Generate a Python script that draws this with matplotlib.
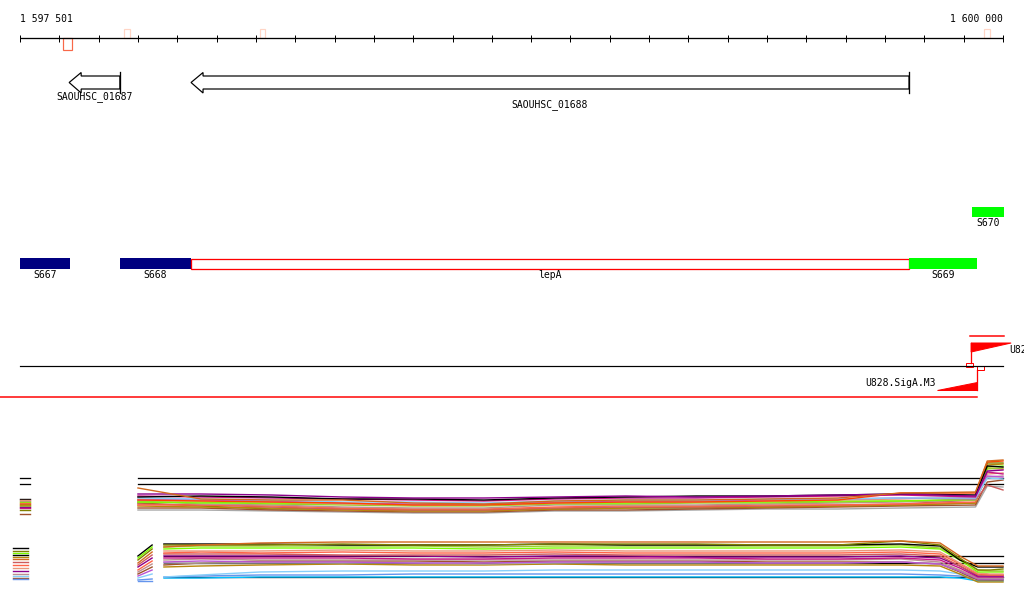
import matplotlib
matplotlib.use("Agg")
import matplotlib.pyplot as plt
from matplotlib.patches import Polygon, Rectangle

# ---------------- data ----------------
region_start = 1597500
region_end = 1600000
ruler_labels = ["1 597 501", "1 600 000"]
tick_step = 100

# small marks on the ruler (start, end, kind)
ruler_marks = [(1597609, 1597632, "down"), (1597765, 1597780, "up"),
               (1598110, 1598123, "up"), (1599952, 1599967, "up")]

# genes (reverse strand): name, start, end
gene_names = ["SAOUHSC_01687", "SAOUHSC_01688"]
gene_starts = [1597625, 1597935]
gene_ends = [1597754, 1599761]

# segments track
seg_names = ["S667", "S668", "lepA", "S669", "S670"]
seg_starts = [1597500, 1597754, 1597935, 1599761, 1599921]
seg_ends = [1597627, 1597935, 1599761, 1599934, 1600003]
seg_kinds = ["navy", "navy", "cds", "green", "green"]
seg_rows = [0, 0, 0, 0, 1]

# promoters
prom_names = ["U828.SigA.M3", "U828.SigA.M3"]
prom_pos = [1599919, 1599934]
prom_strand = ["+", "-"]

# expression track 1
t1_x = [1597800, 1597960, 1598140, 1598320, 1598500, 1598680, 1598860, 1599040,
        1599220, 1599400, 1599580, 1599740, 1599930, 1599960, 1600000]
t1_series = {
    '#808000': [503, 506, 509, 509, 510, 510, 509, 508, 508, 507, 506, 505, 503, 463, 463],
    '#a9a9a9': [510, 510, 511, 512, 513, 513, 511, 511, 510, 509, 509, 508, 507, 486, 487],
    '#a0522d': [508, 508, 510, 511, 512, 512, 510, 510, 509, 508, 507, 506, 505, 482, 480],
    '#b8860b': [506, 507, 508, 510, 511, 511, 509, 508, 507, 507, 506, 505, 503, 465, 464],
    '#cd5c5c': [504, 505, 507, 509, 510, 510, 508, 507, 507, 506, 505, 504, 500, 485, 490],
    '#ff6347': [505, 505, 506, 508, 509, 509, 507, 506, 506, 505, 505, 504, 502, 468, 469],
    '#bc8f8f': [501, 504, 505, 507, 508, 508, 505, 505, 505, 504, 503, 502, 500, 477, 476],
    '#9acd32': [502, 502, 504, 505, 506, 506, 504, 504, 503, 503, 502, 501, 500, 469, 468],
    '#7cfc00': [502, 503, 503, 504, 505, 505, 503, 503, 502, 502, 501, 501, 499, 467, 466],
    '#e9967a': [499, 500, 502, 504, 505, 505, 503, 502, 502, 501, 500, 499, 497, 474, 473],
    '#ba55d3': [500, 500, 501, 503, 504, 504, 502, 501, 501, 500, 499, 498, 499, 476, 477],
    '#87cefa': [498, 499, 500, 502, 502, 503, 501, 500, 500, 499, 499, 498, 498, 478, 479],
    '#ff4500': [500, 501, 502, 503, 505, 505, 503, 502, 502, 501, 500, 493, 493, 462, 461],
    '#c71585': [496, 497, 498, 499, 500, 501, 499, 498, 498, 497, 496, 495, 497, 472, 474],
    '#000000': [497, 496, 497, 499, 499, 500, 498, 497, 496, 496, 495, 494, 495, 466, 467],
    '#8b008b': [494, 494, 495, 497, 498, 498, 497, 496, 497, 496, 495, 494, 496, 471, 470],
    '#d2691e': [488, 499, 500, 500, 503, 504, 501, 500, 500, 499, 498, 493, 492, 461, 460],
}
t1_thresholds = [478, 484]

# expression track 2
t2_x = [1597866, 1597960, 1598110, 1598320, 1598500, 1598680, 1598860, 1599040,
        1599220, 1599400, 1599580, 1599740, 1599840, 1599890, 1599936, 1599967, 1600000]
t2_series = {
    '#00bfff': [578, 578, 577, 577, 577, 577, 577, 577, 577, 577, 577, 577, 577, 578, 581, 581, 581],
    '#6495ed': [577, 576, 575, 575, 574, 574, 574, 574, 574, 574, 574, 574, 575, 576, 579, 580, 580],
    '#87cefa': [577, 575, 572, 571, 571, 571, 570, 570, 570, 570, 570, 570, 571, 574, 578, 579, 579],
    '#b8860b': [567, 566, 565, 564, 565, 565, 564, 565, 565, 565, 565, 565, 566, 574, 582, 582, 582],
    '#a0522d': [565, 563, 561, 561, 561, 562, 561, 561, 561, 562, 562, 562, 564, 572, 580, 580, 580],
    '#a9a9a9': [563, 563, 563, 563, 563, 564, 563, 563, 563, 563, 563, 562, 564, 571, 578, 577, 577],
    '#ba55d3': [562, 561, 562, 562, 563, 563, 562, 562, 562, 563, 563, 562, 564, 571, 579, 579, 579],
    '#bc8f8f': [560, 559, 560, 560, 560, 560, 560, 560, 560, 560, 560, 559, 562, 570, 578, 578, 578],
    '#c71585': [558, 558, 558, 558, 559, 559, 558, 558, 558, 559, 559, 558, 560, 568, 577, 577, 577],
    '#8b008b': [556, 556, 556, 556, 556, 557, 556, 556, 557, 557, 557, 556, 558, 566, 576, 576, 576],
    '#cd5c5c': [554, 554, 554, 555, 555, 555, 554, 555, 555, 555, 555, 554, 556, 566, 575, 575, 575],
    '#ff6347': [553, 552, 553, 552, 553, 553, 552, 553, 553, 553, 553, 552, 554, 564, 574, 575, 575],
    '#e9967a': [551, 551, 551, 550, 551, 551, 550, 551, 551, 551, 551, 550, 552, 563, 573, 574, 574],
    '#7cfc00': [549, 548, 548, 548, 548, 549, 548, 548, 548, 548, 548, 547, 549, 560, 572, 572, 572],
    '#9acd32': [547, 546, 546, 546, 546, 547, 546, 546, 546, 546, 546, 545, 548, 559, 570, 571, 571],
    '#000000': [544, 544, 544, 545, 545, 545, 544, 545, 545, 545, 545, 544, 546, 560, 567, 567, 567],
    '#808000': [545, 545, 545, 544, 545, 545, 544, 544, 544, 545, 545, 541, 545, 558, 570, 570, 569],
    '#d2691e': [547, 545, 543, 542, 542, 542, 542, 542, 542, 542, 542, 541, 543, 556, 566, 566, 566],
}
t2_thresholds = [556, 563, 577]

# short left fragment of track 2
t2b_x = [1597800, 1597836]
t2b_start = [556, 558, 560, 563, 565, 567, 570, 572, 574, 576, 578, 580]
t2b_end = [545, 547, 549, 552, 555, 558, 561, 564, 567, 570, 574, 579]
t2b_colors = ['#000000', '#7cfc00', '#808000', '#d2691e', '#cd5c5c', '#8b008b',
              '#ff6347', '#bc8f8f', '#a0522d', '#ba55d3', '#87cefa', '#6495ed']

# left mini blocks
mini1_x = [1597500, 1597525]
mini1_y = [499, 500, 501, 502, 503, 504, 505, 506, 507, 508, 510, 514]
mini1_c = ['#000000', '#e9967a', '#bc8f8f', '#7cfc00', '#ff6347', '#d2691e',
           '#b8860b', '#9acd32', '#8b008b', '#c71585', '#808000', '#a0522d']
mini2_x = [1597482, 1597520]
mini2_y = [548, 551, 553, 555, 557, 559, 562, 565, 568, 571, 574, 576, 578, 579]
mini2_c = ['#000000', '#808000', '#7cfc00', '#000000', '#b8860b', '#d2691e', '#cd5c5c',
           '#ff6347', '#e9967a', '#8b008b', '#bc8f8f', '#87cefa', '#a0522d', '#6495ed']

# ---------------- drawing ----------------
W, H = 1024, 611
x0px, x1px = 20, 1003
bp_per_px = (region_end - region_start) / (x1px - x0px)
XL = region_start - x0px * bp_per_px
XR = region_start + (W - x0px) * bp_per_px

fig = plt.figure(figsize=(W / 100, H / 100), dpi=100)
ax = fig.add_axes([0, 0, 1, 1])
ax.set_xlim(XL, XR)
ax.set_ylim(H, 0)
ax.axis('off')

FONT = dict(family='DejaVu Sans Mono', fontsize=7, color='black')
PX = 0.72  # one pixel in points

# ruler
ax.plot([region_start, region_end], [38, 38], color='black', lw=PX * 1.3, solid_capstyle='butt')
for t in range(region_start, region_end + 1, tick_step):
    ax.plot([t, t], [35, 41.5], color='black', lw=PX, solid_capstyle='butt')
ax.text(region_start, 19.5, ruler_labels[0], ha='left', va='center', **FONT)
ax.text(region_end, 19.5, ruler_labels[1], ha='right', va='center', **FONT)
for s, e, kind in ruler_marks:
    if kind == "down":
        ax.add_patch(Rectangle((s, 38), e - s, 12, fill=False, ec='#f86848', lw=PX * 1.2))
    else:
        ax.add_patch(Rectangle((s, 29), e - s, 9, fill=False, ec='#ffd5c5', lw=PX * 1.2))

# genes (reverse strand arrows)
for name, s, e, lab_y in zip(gene_names, gene_starts, gene_ends, [97, 105]):
    hl = 12 * bp_per_px
    pts = [(s, 82.5), (s + hl, 72.5), (s + hl, 76), (e, 76), (e, 89), (s + hl, 89), (s + hl, 93)]
    ax.add_patch(Polygon(pts, closed=True, fc='white', ec='black', lw=PX * 1.2, joinstyle='miter'))
    ax.plot([e, e], [72, 93], color='black', lw=PX * 1.3)
    ax.text((s + e) / 2, lab_y, name, ha='center', va='center', **FONT)

# segments
for name, s, e, kind, row in zip(seg_names, seg_starts, seg_ends, seg_kinds, seg_rows):
    top = 258 if row == 0 else 207
    h = 11 if row == 0 else 10
    if kind == 'navy':
        ax.add_patch(Rectangle((s, top), e - s, h, fc='#000080', ec='none'))
    elif kind == 'green':
        ax.add_patch(Rectangle((s, top), e - s, h, fc='#00ff00', ec='none'))
    else:
        ax.add_patch(Rectangle((s, top + 0.5), e - s, h - 1, fill=False, ec='#ff0000', lw=PX * 1.3))
    ax.text((s + e) / 2, top + h + 6.5, name, ha='center', va='center', **FONT)

# promoter track
ax.plot([region_start, region_end], [366, 366], color='black', lw=PX * 1.2)
ax.plot([XL, prom_pos[1]], [397, 397], color='#ff0000', lw=PX * 1.5)
ax.plot([prom_pos[0] - 3, region_end + 3], [336, 336], color='#ff0000', lw=PX * 1.5)
for name, p, st in zip(prom_names, prom_pos, prom_strand):
    L = 40 * bp_per_px
    if st == '+':
        ax.add_patch(Polygon([(p, 343), (p + L, 343), (p, 352)], closed=True, fc='#ff0000', ec='#ff0000', lw=PX))
        ax.plot([p, p], [343, 362.5], color='#ff0000', lw=PX * 1.3)
        ax.add_patch(Rectangle((p - 5 * bp_per_px, 362.5), 7 * bp_per_px, 4, fill=False, ec='#ff0000', lw=PX))
        ax.text(p + 38 * bp_per_px, 350, name, ha='left', va='center', clip_on=False, **FONT)
    else:
        ax.add_patch(Polygon([(p - L, 390), (p, 390), (p, 382)], closed=True, fc='#ff0000', ec='#ff0000', lw=PX))
        ax.plot([p, p], [370, 390], color='#ff0000', lw=PX * 1.3)
        ax.add_patch(Rectangle((p, 366.3), 7 * bp_per_px, 4, fill=False, ec='#ff0000', lw=PX))
        ax.text(p - 41 * bp_per_px, 382.5, name, ha='right', va='center', **FONT)

# expression track 1
for y in t1_thresholds:
    ax.plot([t1_x[0], region_end], [y, y], color='black', lw=PX * 1.3)
    ax.plot(mini1_x, [y, y], color='black', lw=PX * 1.3)
for c, vals in t1_series.items():
    ax.plot(t1_x, vals, color=c, lw=PX * 1.4)
for y, c in zip(mini1_y, mini1_c):
    ax.plot(mini1_x, [y, y], color=c, lw=PX * 1.4)

# expression track 2
for y in t2_thresholds:
    ax.plot([t2_x[0], region_end], [y, y], color='black', lw=PX * 1.3)
for c, vals in t2_series.items():
    ax.plot(t2_x, vals, color=c, lw=PX * 1.4)
for a, b, c in zip(t2b_start, t2b_end, t2b_colors):
    ax.plot(t2b_x, [a, b], color=c, lw=PX * 1.4)
ax.plot(t2b_x, [581, 581], color='#6495ed', lw=PX * 1.4)
for y, c in zip(mini2_y, mini2_c):
    ax.plot(mini2_x, [y, y], color=c, lw=PX * 1.4)

fig.savefig('out.png', dpi=100, facecolor='white')
